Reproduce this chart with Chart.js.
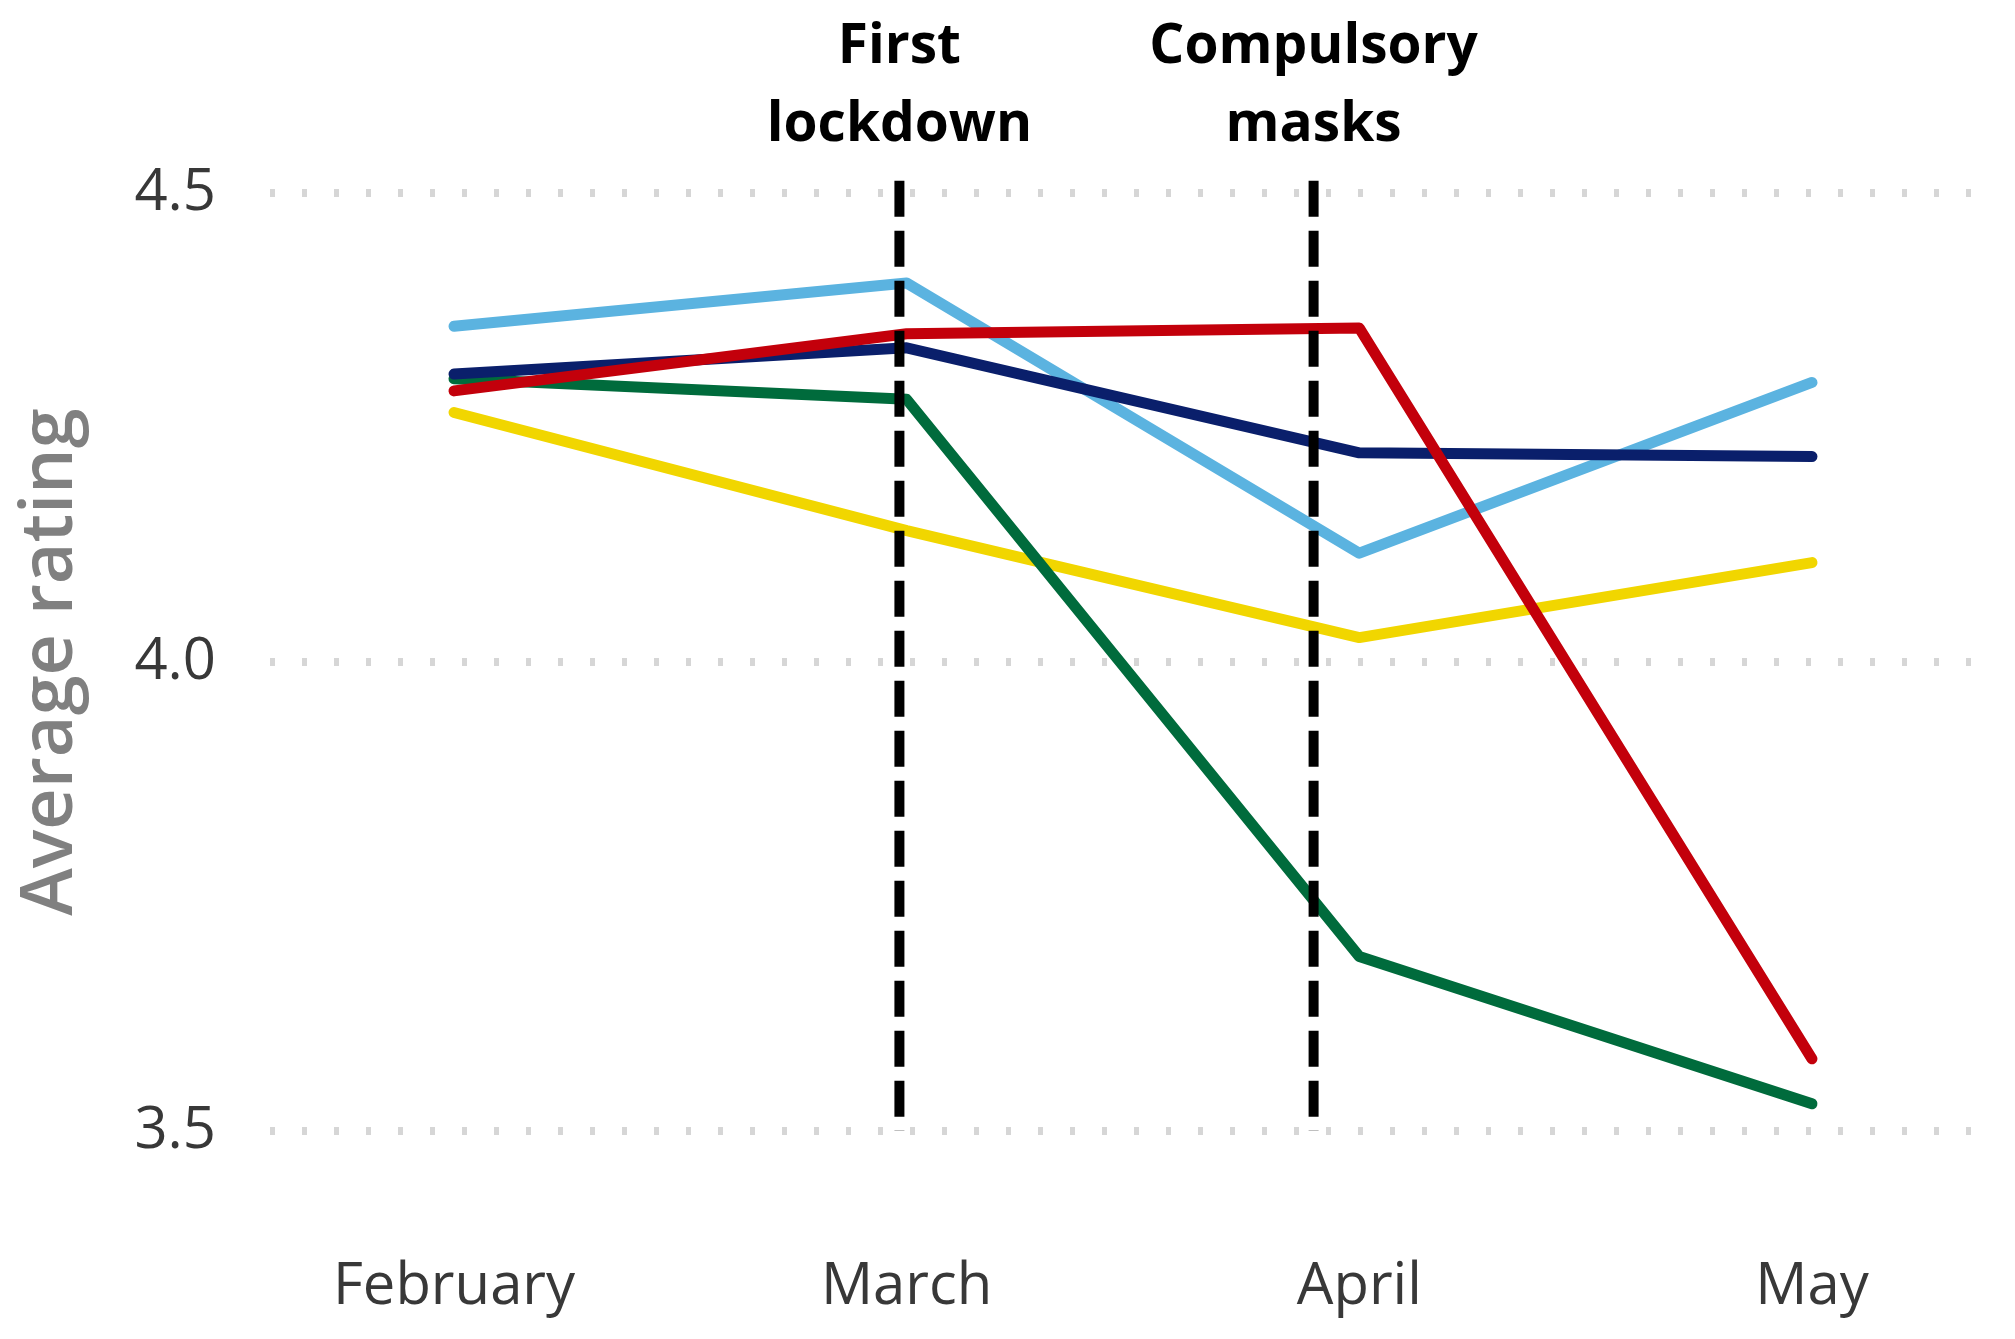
<!DOCTYPE html>
<html>
<head>
<meta charset="utf-8">
<script src="https://cdn.jsdelivr.net/npm/chart.js@4"></script>
<style>
    html, body { margin: 0; padding: 0; background: #ffffff; }
    #wrap { width: 2015px; height: 1339px; position: relative; }
</style>
</head>
<body>
<div id="wrap"><canvas id="ratingChart" width="2015" height="1339"></canvas></div>
<script>
// Months on the x axis
const categories = ['February', 'March', 'April', 'May'];

// Average rating per series
const lightBlueValues = [4.358, 4.404, 4.116, 4.298];
const navyValues = [4.307, 4.335, 4.223, 4.219];
const redValues = [4.289, 4.350, 4.356, 3.577];
const greenValues = [4.302, 4.280, 3.686, 3.529];
const yellowValues = [4.266, 4.140, 4.026, 4.106];

// y axis ticks
const yTicks = [3.5, 4.0, 4.5];

// Event markers (position in month index) and their labels
const eventPositions = [0.984, 1.899];
const eventLabels = [['First', 'lockdown'], ['Compulsory', 'masks']];
const eventTop = 4.513;

const toPoints = values => values.map((v, i) => ({ x: i, y: v }));

function series(values, color) {
    return {
        data: toPoints(values),
        borderColor: color,
        backgroundColor: color,
        borderWidth: 11,
        pointRadius: 0,
        borderCapStyle: 'round',
        borderJoinStyle: 'round',
        tension: 0
    };
}

// Draw dashed event lines and their labels above the plot
const eventPlugin = {
    id: 'events',
    afterDatasetsDraw(chart) {
        const { ctx, scales: { x, y } } = chart;
        ctx.save();
        eventPositions.forEach((pos, i) => {
            const px = x.getPixelForValue(pos);
            ctx.beginPath();
            ctx.setLineDash([36, 14]);
            ctx.lineWidth = 10;
            ctx.strokeStyle = '#000000';
            ctx.moveTo(px, y.getPixelForValue(eventTop));
            ctx.lineTo(px, y.getPixelForValue(yTicks[0]));
            ctx.stroke();

            ctx.setLineDash([]);
            ctx.fillStyle = '#000000';
            ctx.font = 'bold 55px "Open Sans"';
            ctx.textAlign = 'center';
            ctx.textBaseline = 'alphabetic';
            ctx.fillText(eventLabels[i][0], px, 63);
            ctx.fillText(eventLabels[i][1], px, 141);
        });
        ctx.restore();
    }
};

const ctx = document.getElementById('ratingChart').getContext('2d');
const ratingChart = new Chart(ctx, {
    type: 'line',
    data: {
        datasets: [
            series(redValues, '#C3000B'),
            series(navyValues, '#0A1F6B'),
            series(lightBlueValues, '#5BB3E0'),
            series(greenValues, '#006B3C'),
            series(yellowValues, '#F1D600')
        ]
    },
    options: {
        responsive: false,
        devicePixelRatio: 1,
        animation: false,
        layout: {
            padding: { top: 193, right: 36, bottom: 0, left: 0 }
        },
        plugins: {
            legend: { display: false },
            tooltip: { enabled: false }
        },
        scales: {
            x: {
                type: 'linear',
                min: -0.4065,
                max: 3.369,
                afterBuildTicks: scale => {
                    scale.ticks = categories.map((c, i) => ({ value: i }));
                },
                afterFit: scale => { scale.height = 208; },
                grid: { display: false, drawTicks: false },
                border: { display: false },
                ticks: {
                    autoSkip: false,
                    maxRotation: 0,
                    padding: 122,
                    color: '#383838',
                    font: { family: 'Open Sans', size: 58 },
                    callback: value => categories[value]
                }
            },
            y: {
                min: 3.5,
                max: 4.5,
                afterBuildTicks: scale => {
                    scale.ticks = yTicks.map(v => ({ value: v }));
                },
                afterFit: scale => { scale.width = 270; },
                grid: {
                    color: '#d6d6d6',
                    lineWidth: 8,
                    drawTicks: false
                },
                border: { display: false, dash: [5, 27] },
                ticks: {
                    padding: 54,
                    color: '#383838',
                    font: { family: 'Open Sans', size: 58 },
                    callback: value => Number(value).toFixed(1)
                },
                title: {
                    display: true,
                    text: 'Average rating',
                    color: '#808080',
                    padding: { top: 8, bottom: 0 },
                    font: { family: 'Open Sans', size: 72, weight: '600' }
                }
            }
        }
    },
    plugins: [eventPlugin]
});
</script>
</body>
</html>
